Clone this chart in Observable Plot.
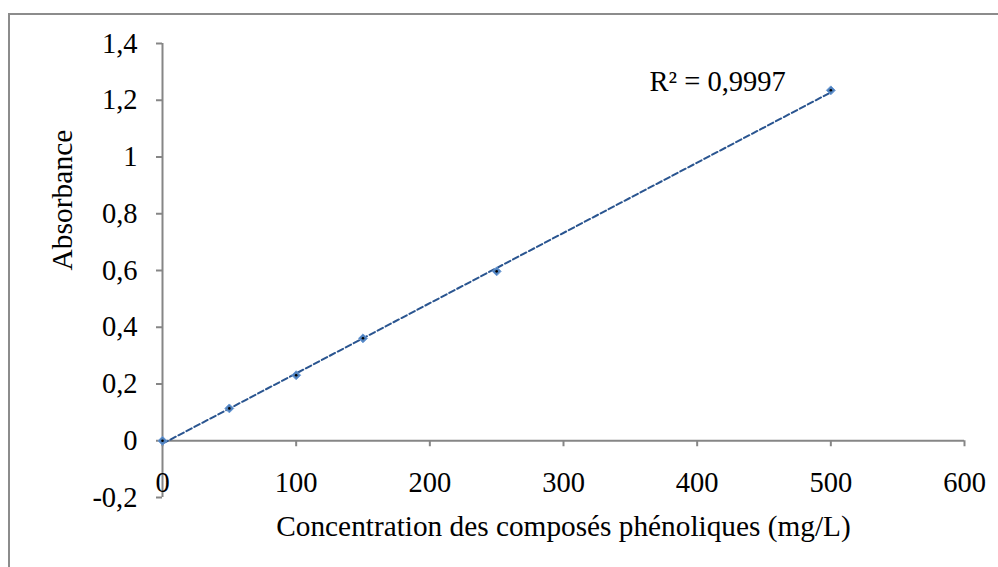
<!DOCTYPE html>
<html>
<head>
<meta charset="utf-8">
<script src="https://cdn.jsdelivr.net/npm/d3@7"></script>
<script src="https://cdn.jsdelivr.net/npm/@observablehq/plot@0.6"></script>
<style>
  html, body { margin: 0; padding: 0; background: #fff; }
  #wrap { position: relative; width: 998px; height: 567px; overflow: hidden; }
  #border { position: absolute; left: 8px; top: 13px; width: 1200px; height: 800px;
            border-left: 2px solid #8c8c8c; border-top: 2px solid #8c8c8c; pointer-events: none; }
</style>
</head>
<body>
<div id="wrap"><div id="border"></div></div>
<script>
const concentration = [0, 50, 100, 150, 250, 500];
const absorbance = [0, 0.114, 0.231, 0.361, 0.597, 1.235];
const xTicks = [0, 100, 200, 300, 400, 500, 600];
const yTicks = [-0.2, 0, 0.2, 0.4, 0.6, 0.8, 1, 1.2, 1.4];
const r2Label = "R² = 0,9997";
const xTitle = "Concentration des composés phénoliques (mg/L)";
const yTitle = "Absorbance";

const data = concentration.map((c, i) => ({c, a: absorbance[i]}));
const axisGray = "#868686";
const fmt = d => String(+d.toFixed(1)).replace(".", ",");

// least squares fit for annotation anchor
const mx = d3.mean(data, d => d.c), my = d3.mean(data, d => d.a);
const slope = d3.sum(data, d => (d.c - mx) * (d.a - my)) / d3.sum(data, d => (d.c - mx) ** 2);
const intercept = my - slope * mx;
const xMax = d3.max(concentration);
const annot = [{c: xMax, a: intercept + slope * xMax, label: r2Label}];

const chart = Plot.plot({
  width: 998,
  height: 567,
  marginLeft: 162,
  marginRight: 34,
  marginTop: 43,
  marginBottom: 70,
  style: {fontFamily: "'Liberation Serif', 'Times New Roman', serif", color: "black", background: "transparent"},
  x: {domain: [0, 600], axis: null},
  y: {domain: [-0.2, 1.4], axis: null},
  marks: [
    Plot.ruleY([0], {stroke: axisGray, strokeWidth: 2}),
    Plot.ruleX([0], {stroke: axisGray, strokeWidth: 2}),
    Plot.axisY(yTicks, {anchor: "left", tickSize: 6, tickPadding: 19, tickFormat: fmt,
      fontSize: 28.5, stroke: axisGray, strokeWidth: 2, fill: "black", label: null}),
    Plot.ruleX(xTicks, {x: d => d, y1: 0, y2: 0, insetBottom: -6, stroke: axisGray, strokeWidth: 2}),
    Plot.text(xTicks, {x: d => d, y: 0, dy: 42, text: d => String(d), fontSize: 28.5, fill: "black", lineAnchor: "middle"}),
    Plot.text([xTitle], {frameAnchor: "bottom", dy: 29, text: d => d, fontSize: 29.3, fill: "black", lineAnchor: "middle"}),
    Plot.text([yTitle], {frameAnchor: "left", dx: -100, rotate: -90, text: d => d, fontSize: 29.5, fill: "black", lineAnchor: "middle"}),
    Plot.linearRegressionY(data, {x: "c", y: "a", ci: 0, stroke: "#2a5590", strokeWidth: 2, strokeDasharray: "6,3"}),
    Plot.dot(data, {x: "c", y: "a", symbol: "diamond2", r: 4, fill: "#4f81bd", stroke: "#6a9ad6", strokeWidth: 1}),
    Plot.dot(data, {x: "c", y: "a", r: 1.3, fill: "black"}),
    Plot.text(annot, {x: "c", y: "a", text: "label", dx: -45, dy: -10, textAnchor: "end", lineAnchor: "middle", fontSize: 28.5, fill: "black"})
  ]
});
document.getElementById("wrap").prepend(chart);
</script>
</body>
</html>
